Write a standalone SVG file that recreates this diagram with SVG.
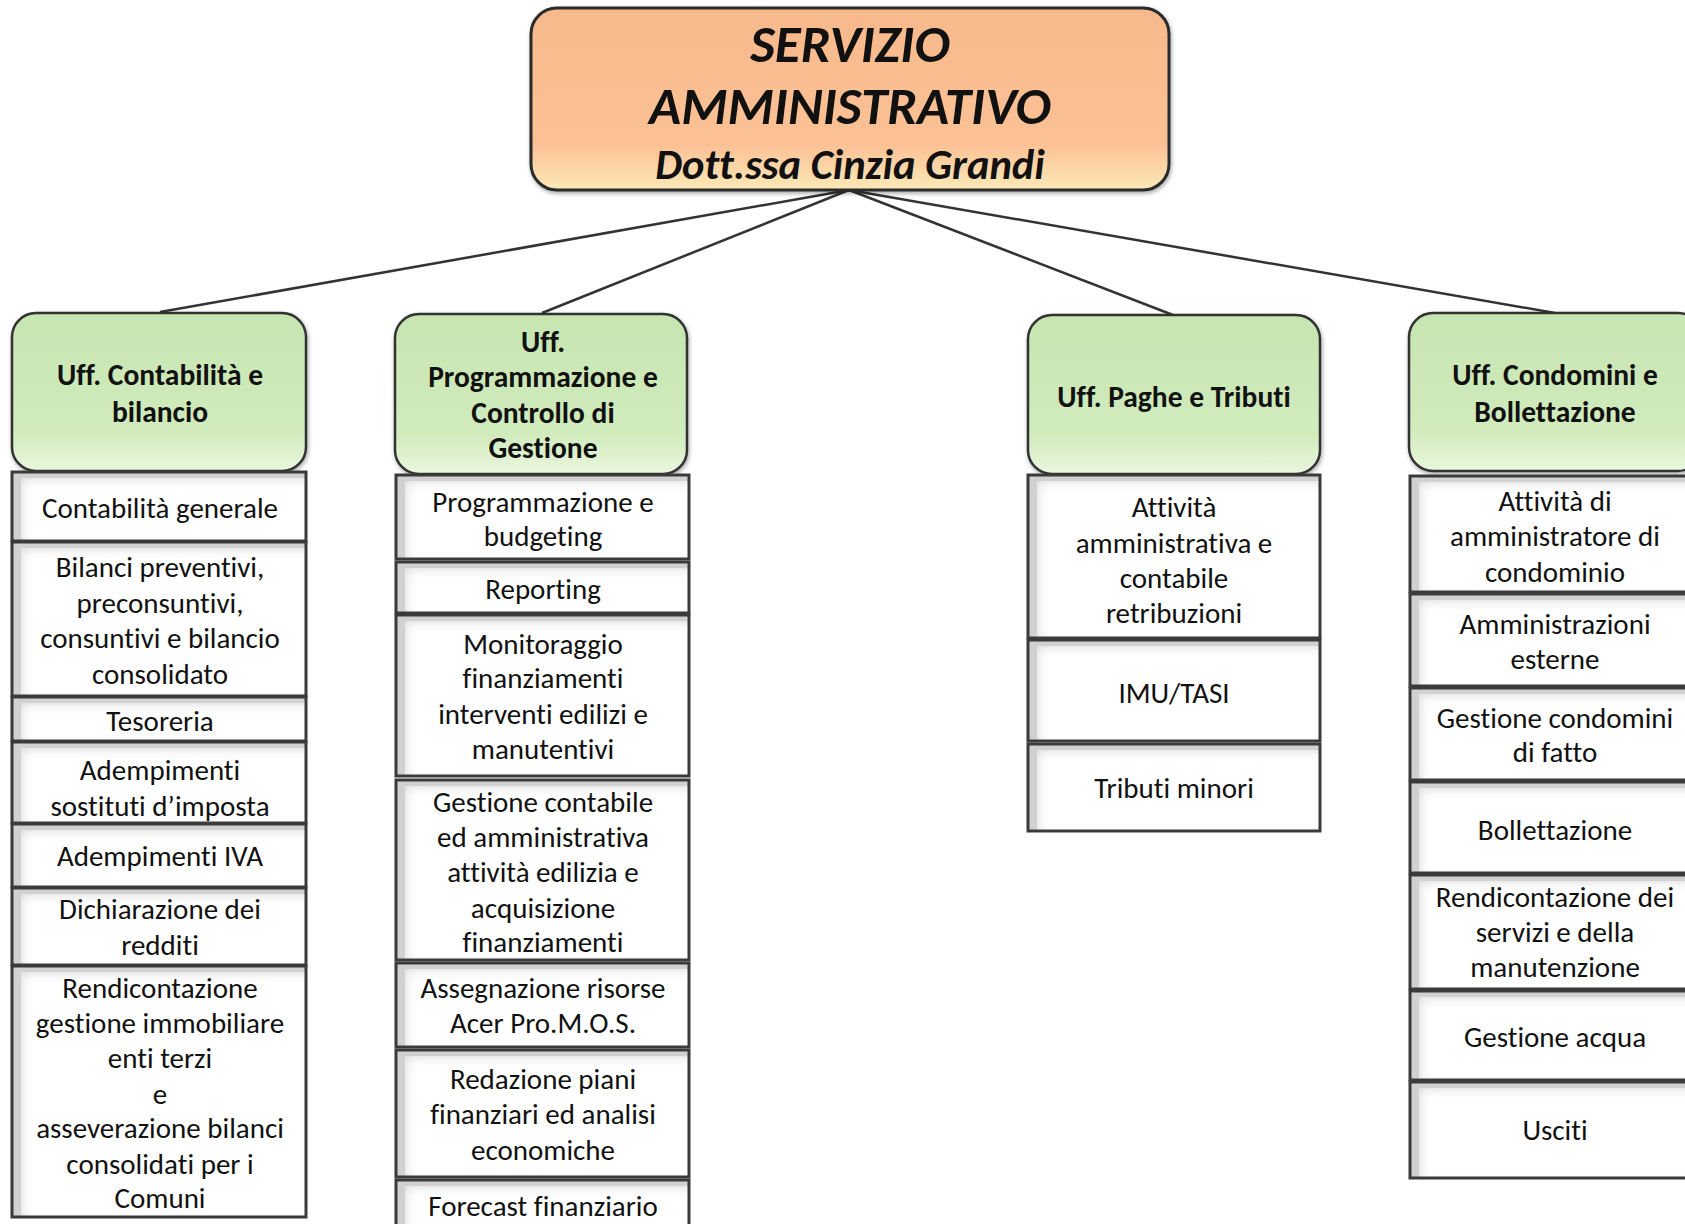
<svg xmlns="http://www.w3.org/2000/svg" width="1685" height="1224" viewBox="0 0 1685 1224">
<defs>
<linearGradient id="gRoot" x1="0" y1="0" x2="0" y2="1">
<stop offset="0" stop-color="#f7b98b"/><stop offset="0.75" stop-color="#fbc195"/><stop offset="1" stop-color="#fde9b8"/>
</linearGradient>
<linearGradient id="gHead" x1="0" y1="0" x2="0" y2="1">
<stop offset="0" stop-color="#c6e5b0"/><stop offset="0.75" stop-color="#d1ebbd"/><stop offset="1" stop-color="#eaf7df"/>
</linearGradient>
<filter id="inset" x="0" y="0" width="1" height="1">
<feGaussianBlur in="SourceAlpha" stdDeviation="6" result="b"/>
<feOffset in="b" dx="9" dy="6" result="o"/>
<feComposite in="SourceAlpha" in2="o" operator="out" result="edge"/>
<feFlood flood-color="#a8a8a8" flood-opacity="0.6"/>
<feComposite in2="edge" operator="in" result="sh"/>
<feMerge><feMergeNode in="SourceGraphic"/><feMergeNode in="sh"/></feMerge>
</filter>
<filter id="drop" x="-5%" y="-5%" width="110%" height="115%">
<feGaussianBlur in="SourceAlpha" stdDeviation="2"/>
<feOffset dx="1" dy="2" result="o"/>
<feFlood flood-color="#000" flood-opacity="0.35"/>
<feComposite in2="o" operator="in"/>
<feMerge><feMergeNode/><feMergeNode in="SourceGraphic"/></feMerge>
</filter>
</defs>
<style>
text{font-family:Carlito,Lato,"Open Sans",sans-serif;fill:#111;text-anchor:middle;font-variant-ligatures:none}
.root{fill:url(#gRoot);stroke:#2b2b2b;stroke-width:3;filter:url(#drop)}
.head{fill:url(#gHead);stroke:#333;stroke-width:2.5;filter:url(#drop)}
.sbf{fill:#fff;filter:url(#inset)}
.sbs{fill:none;stroke:#3a3a3a;stroke-width:3}
.rt{font-weight:bold;font-style:italic;font-size:53px}
.rt2{font-weight:bold;font-style:italic;font-size:42.5px}
.ht{font-weight:bold;font-size:29.5px}
.st{font-size:29px}
.conn line{stroke:#333;stroke-width:2.5}
</style>
<rect width="1685" height="1224" fill="#fff"/>

<g class="conn" id="connectors">
<line x1="849" y1="190" x2="160" y2="312"/>
<line x1="849" y1="190" x2="542" y2="313"/>
<line x1="849" y1="190" x2="1173" y2="315"/>
<line x1="849" y1="190" x2="1555" y2="313"/>
</g>

<g id="root">
<rect class="root" x="531" y="8" width="638" height="182" rx="26"/>
<text class="rt" x="850" y="62">SERVIZIO</text>
<text class="rt" x="850" y="124">AMMINISTRATIVO</text>
<text class="rt2" x="850" y="179">Dott.ssa Cinzia Grandi</text>
</g>

<g id="uff-contabilita">
<rect class="head" x="12" y="313" width="294" height="158" rx="24"/>
<text class="ht" x="160" y="385">Uff. Contabilità e</text>
<text class="ht" x="160" y="422">bilancio</text>
</g>
<g id="uff-programmazione">
<rect class="head" x="395" y="314" width="292" height="160" rx="24"/>
<text class="ht" x="543" y="352">Uff.</text>
<text class="ht" x="543" y="387">Programmazione e</text>
<text class="ht" x="543" y="423">Controllo di</text>
<text class="ht" x="543" y="458">Gestione</text>
</g>
<g id="uff-paghe">
<rect class="head" x="1028" y="315" width="292" height="159" rx="24"/>
<text class="ht" x="1174" y="407">Uff. Paghe e Tributi</text>
</g>
<g id="uff-condomini">
<rect class="head" x="1409" y="313" width="293" height="158" rx="24"/>
<text class="ht" x="1555" y="385">Uff. Condomini e</text>
<text class="ht" x="1555" y="422">Bollettazione</text>
</g>

<!-- Column 1 -->
<g id="c1-1"><rect class="sbf" x="12" y="472" width="294" height="69"/><rect class="sbs" x="12" y="472" width="294" height="69"/>
<text class="st" x="160" y="518">Contabilità generale</text></g>
<g id="c1-2"><rect class="sbf" x="12" y="542" width="294" height="154"/><rect class="sbs" x="12" y="542" width="294" height="154"/>
<text class="st" x="160" y="577">Bilanci preventivi,</text><text class="st" x="160" y="613">preconsuntivi,</text><text class="st" x="160" y="648">consuntivi e bilancio</text><text class="st" x="160" y="684">consolidato</text></g>
<g id="c1-3"><rect class="sbf" x="12" y="697" width="294" height="44"/><rect class="sbs" x="12" y="697" width="294" height="44"/>
<text class="st" x="160" y="731">Tesoreria</text></g>
<g id="c1-4"><rect class="sbf" x="12" y="742" width="294" height="81"/><rect class="sbs" x="12" y="742" width="294" height="81"/>
<text class="st" x="160" y="780">Adempimenti</text><text class="st" x="160" y="816">sostituti d’imposta</text></g>
<g id="c1-5"><rect class="sbf" x="12" y="824" width="294" height="63"/><rect class="sbs" x="12" y="824" width="294" height="63"/>
<text class="st" x="160" y="866">Adempimenti IVA</text></g>
<g id="c1-6"><rect class="sbf" x="12" y="888" width="294" height="77"/><rect class="sbs" x="12" y="888" width="294" height="77"/>
<text class="st" x="160" y="919">Dichiarazione dei</text><text class="st" x="160" y="955">redditi</text></g>
<g id="c1-7"><rect class="sbf" x="12" y="966" width="294" height="251"/><rect class="sbs" x="12" y="966" width="294" height="251"/>
<text class="st" x="160" y="998">Rendicontazione</text><text class="st" x="160" y="1033">gestione immobiliare</text><text class="st" x="160" y="1068">enti terzi</text><text class="st" x="160" y="1104">e</text><text class="st" x="160" y="1138">asseverazione bilanci</text><text class="st" x="160" y="1174">consolidati per i</text><text class="st" x="160" y="1208">Comuni</text></g>

<!-- Column 2 -->
<g id="c2-1"><rect class="sbf" x="396" y="475" width="293" height="84"/><rect class="sbs" x="396" y="475" width="293" height="84"/>
<text class="st" x="543" y="512">Programmazione e</text><text class="st" x="543" y="546">budgeting</text></g>
<g id="c2-2"><rect class="sbf" x="396" y="562" width="293" height="51"/><rect class="sbs" x="396" y="562" width="293" height="51"/>
<text class="st" x="543" y="599">Reporting</text></g>
<g id="c2-3"><rect class="sbf" x="396" y="615" width="293" height="161"/><rect class="sbs" x="396" y="615" width="293" height="161"/>
<text class="st" x="543" y="654">Monitoraggio</text><text class="st" x="543" y="688">finanziamenti</text><text class="st" x="543" y="724">interventi edilizi e</text><text class="st" x="543" y="759">manutentivi</text></g>
<g id="c2-4"><rect class="sbf" x="396" y="780" width="293" height="180"/><rect class="sbs" x="396" y="780" width="293" height="180"/>
<text class="st" x="543" y="812">Gestione contabile</text><text class="st" x="543" y="847">ed amministrativa</text><text class="st" x="543" y="882">attività edilizia e</text><text class="st" x="543" y="918">acquisizione</text><text class="st" x="543" y="952">finanziamenti</text></g>
<g id="c2-5"><rect class="sbf" x="396" y="963" width="293" height="84"/><rect class="sbs" x="396" y="963" width="293" height="84"/>
<text class="st" x="543" y="998">Assegnazione risorse</text><text class="st" x="543" y="1033">Acer Pro.M.O.S.</text></g>
<g id="c2-6"><rect class="sbf" x="396" y="1050" width="293" height="127"/><rect class="sbs" x="396" y="1050" width="293" height="127"/>
<text class="st" x="543" y="1089">Redazione piani</text><text class="st" x="543" y="1124">finanziari ed analisi</text><text class="st" x="543" y="1160">economiche</text></g>
<g id="c2-7"><rect class="sbf" x="396" y="1180" width="293" height="60"/><rect class="sbs" x="396" y="1180" width="293" height="60"/>
<text class="st" x="543" y="1216">Forecast finanziario</text></g>

<!-- Column 3 -->
<g id="c3-1"><rect class="sbf" x="1028" y="475" width="292" height="163"/><rect class="sbs" x="1028" y="475" width="292" height="163"/>
<text class="st" x="1174" y="517">Attività</text><text class="st" x="1174" y="553">amministrativa e</text><text class="st" x="1174" y="588">contabile</text><text class="st" x="1174" y="623">retribuzioni</text></g>
<g id="c3-2"><rect class="sbf" x="1028" y="640" width="292" height="101"/><rect class="sbs" x="1028" y="640" width="292" height="101"/>
<text class="st" x="1174" y="703">IMU/TASI</text></g>
<g id="c3-3"><rect class="sbf" x="1028" y="744" width="292" height="87"/><rect class="sbs" x="1028" y="744" width="292" height="87"/>
<text class="st" x="1174" y="798">Tributi minori</text></g>

<!-- Column 4 -->
<g id="c4-1"><rect class="sbf" x="1410" y="476" width="292" height="116"/><rect class="sbs" x="1410" y="476" width="292" height="116"/>
<text class="st" x="1555" y="511">Attività di</text><text class="st" x="1555" y="546">amministratore di</text><text class="st" x="1555" y="582">condominio</text></g>
<g id="c4-2"><rect class="sbf" x="1410" y="594" width="292" height="92"/><rect class="sbs" x="1410" y="594" width="292" height="92"/>
<text class="st" x="1555" y="634">Amministrazioni</text><text class="st" x="1555" y="669">esterne</text></g>
<g id="c4-3"><rect class="sbf" x="1410" y="688" width="292" height="92"/><rect class="sbs" x="1410" y="688" width="292" height="92"/>
<text class="st" x="1555" y="728">Gestione condomini</text><text class="st" x="1555" y="762">di fatto</text></g>
<g id="c4-4"><rect class="sbf" x="1410" y="782" width="292" height="91"/><rect class="sbs" x="1410" y="782" width="292" height="91"/>
<text class="st" x="1555" y="840">Bollettazione</text></g>
<g id="c4-5"><rect class="sbf" x="1410" y="875" width="292" height="114"/><rect class="sbs" x="1410" y="875" width="292" height="114"/>
<text class="st" x="1555" y="907">Rendicontazione dei</text><text class="st" x="1555" y="942">servizi e della</text><text class="st" x="1555" y="977">manutenzione</text></g>
<g id="c4-6"><rect class="sbf" x="1410" y="991" width="292" height="89"/><rect class="sbs" x="1410" y="991" width="292" height="89"/>
<text class="st" x="1555" y="1047">Gestione acqua</text></g>
<g id="c4-7"><rect class="sbf" x="1410" y="1082" width="292" height="96"/><rect class="sbs" x="1410" y="1082" width="292" height="96"/>
<text class="st" x="1555" y="1140">Usciti</text></g>
</svg>
